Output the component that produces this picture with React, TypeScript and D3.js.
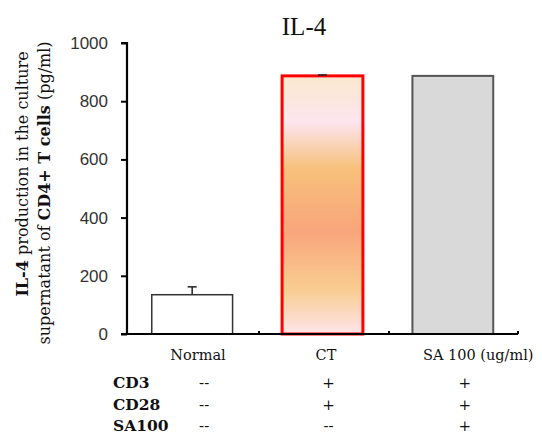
import { useEffect, useRef } from "react";
import * as d3 from "d3";

const categories = ["Normal", "CT", "SA 100  (ug/ml)"];
const values = [135, 887, 887];
const errors = [27, 3, 0];
const yTicks = [0, 200, 400, 600, 800, 1000];
const rowLabels = ["CD3", "CD28", "SA100"];
const rowMarks = [
  ["--", "+", "+"],
  ["--", "+", "+"],
  ["--", "--", "+"],
];

const serif = "DejaVu Serif, serif";

const App = () => {
  const ref = useRef<SVGSVGElement>(null);

  const drawChart = () => {
    const width = 542;
    const height = 435;
    const svg = d3.select(ref.current);
    svg.selectAll("*").remove();
    svg.attr("width", width).attr("height", height);

    const x = d3.scaleBand().domain(categories).range([127, 518]).paddingInner(0.38).paddingOuter(0.19);
    const y = d3.scaleLinear().domain([0, 1000]).range([334, 43]);

    // gradient for CT bar
    const defs = svg.append("defs");
    const grad = defs.append("linearGradient").attr("id", "ctgrad").attr("x1", 0).attr("x2", 0).attr("y1", 0).attr("y2", 1);
    const stops = [
      [0, "#fae8cd"],
      [0.18, "#fde5ef"],
      [0.36, "#f7c07a"],
      [0.6, "#f8a57b"],
      [0.83, "#f9cd92"],
      [1, "#fde4ea"],
    ];
    stops.forEach(s => grad.append("stop").attr("offset", s[0]).attr("stop-color", s[1]));

    // title
    svg.append("text")
      .attr("x", 304).attr("y", 35)
      .attr("text-anchor", "middle")
      .attr("font-family", "Liberation Serif, serif")
      .attr("font-size", 25)
      .attr("fill", "#111")
      .text("IL-4");

    // y axis label
    const lab1 = svg.append("text")
      .attr("transform", "translate(28,174) rotate(-90)")
      .attr("text-anchor", "middle")
      .attr("font-family", serif)
      .attr("font-size", 16)
      .attr("fill", "#111");
    lab1.append("tspan").attr("font-weight", "bold").text("IL-4");
    lab1.append("tspan").text(" production in the culture");
    const lab2 = svg.append("text")
      .attr("transform", "translate(50,193) rotate(-90)")
      .attr("text-anchor", "middle")
      .attr("font-family", serif)
      .attr("font-size", 16)
      .attr("fill", "#111");
    lab2.append("tspan").text("supernatant of ");
    lab2.append("tspan").attr("font-weight", "bold").text("CD4+ T cells");
    lab2.append("tspan").text(" (pg/ml)");

    // bars
    const fills = ["#ffffff", "url(#ctgrad)", "#d9d9d9"];
    const strokes = ["#333333", "#ff0000", "#555555"];
    const strokeW = [1.5, 3, 2];
    svg.append("g").selectAll("rect")
      .data(categories)
      .join("rect")
      .attr("x", d => x(d)!)
      .attr("width", x.bandwidth())
      .attr("y", (d, i) => y(values[i]))
      .attr("height", (d, i) => y(0) - y(values[i]))
      .attr("fill", (d, i) => fills[i])
      .attr("stroke", (d, i) => strokes[i])
      .attr("stroke-width", (d, i) => strokeW[i]);

    // error bars
    const eg = svg.append("g").attr("stroke", "#222").attr("stroke-width", 1.5);
    categories.forEach((c, i) => {
      if (!errors[i]) return;
      const cx = x(c)! + x.bandwidth() / 2;
      eg.append("line").attr("x1", cx).attr("x2", cx).attr("y1", y(values[i])).attr("y2", y(values[i] + errors[i]));
      eg.append("line").attr("x1", cx - 4.5).attr("x2", cx + 4.5).attr("y1", y(values[i] + errors[i])).attr("y2", y(values[i] + errors[i]));
    });

    // y axis
    const yAxis = svg.append("g")
      .attr("transform", "translate(127,0)")
      .call(d3.axisLeft(y).tickValues(yTicks).tickSize(6).tickPadding(13).tickFormat(d3.format("d")));
    yAxis.select(".domain").attr("stroke", "#000").attr("stroke-width", 2.2).attr("d", "M-6,43H0V334H-6");
    yAxis.selectAll(".tick line").attr("stroke", "#000").attr("stroke-width", 2);
    yAxis.selectAll(".tick text")
      .attr("font-family", "Liberation Sans Narrow, Liberation Sans, sans-serif")
      .attr("font-size", 17)
      .attr("fill", "#333");

    // x axis with boundary ticks
    const bounds = [127, 259, 389, 518];
    svg.append("line").attr("x1", 126).attr("x2", 518).attr("y1", y(0)).attr("y2", y(0)).attr("stroke", "#000").attr("stroke-width", 2.2);
    svg.append("g").selectAll("line")
      .data(bounds.slice(1))
      .join("line")
      .attr("x1", d => d).attr("x2", d => d)
      .attr("y1", y(0)).attr("y2", y(0) - 3)
      .attr("stroke", "#000").attr("stroke-width", 2);

    // category labels
    const catX = [198, 326, 423];
    const anchors = ["middle", "middle", "start"];
    svg.append("g").selectAll("text")
      .data(categories)
      .join("text")
      .attr("x", (d, i) => catX[i])
      .attr("y", 360)
      .attr("text-anchor", (d, i) => anchors[i])
      .attr("font-family", serif)
      .attr("font-size", 14.5)
      .attr("fill", "#111")
      .text(d => d);

    // condition table
    const rowY = [388, 410, 431];
    const colX = categories.map((c, i) => x(c)! + x.bandwidth() / 2 + (i === 1 ? 6 : 12));
    rowLabels.forEach((r, ri) => {
      svg.append("text")
        .attr("x", 113).attr("y", rowY[ri])
        .attr("font-family", serif)
        .attr("font-weight", "bold")
        .attr("font-size", 15.5)
        .attr("fill", "#111")
        .text(r);
      rowMarks[ri].forEach((m, ci) => {
        svg.append("text")
          .attr("x", colX[ci]).attr("y", rowY[ri])
          .attr("text-anchor", "middle")
          .attr("font-family", serif)
          .attr("font-size", 15)
          .attr("fill", "#111")
          .text(m);
      });
    });
  };

  useEffect(() => {
    document.body.style.margin = "0";
    drawChart();
  }, []);

  return <svg ref={ref} style={{ display: "block" }}></svg>;
};

export default App;
